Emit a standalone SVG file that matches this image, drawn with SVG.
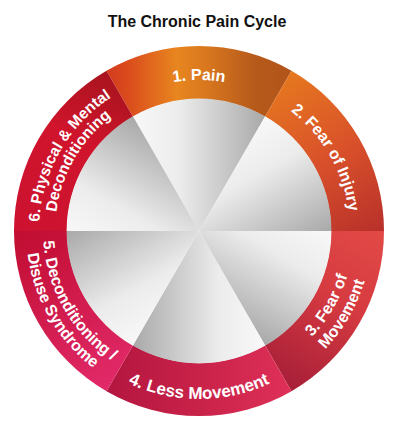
<svg xmlns="http://www.w3.org/2000/svg" width="400" height="432" viewBox="0 0 400 432">
<style>
.lbl{font-family:"Liberation Sans",Arial,Helvetica,sans-serif;font-weight:bold;fill:#ffffff;}
.t16{font-size:16px;}
.t17{font-size:17px;}
.t155{font-size:15.5px;}
.title{font-family:"Liberation Sans",Arial,Helvetica,sans-serif;font-weight:bold;font-size:16px;fill:#111111;}
</style>
<defs>
<path id="seg" d="M -92.5 -160.21 A 185 185 0 0 1 92.5 -160.21 L 66 -114.32 A 132 132 0 0 0 -66 -114.32 Z"/>
<path id="sec" d="M 0 0 L -66.3 -114.6 A 132.4 132.4 0 0 1 66.3 -114.6 Z"/>
<linearGradient id="gIn" gradientUnits="userSpaceOnUse" x1="-66" y1="0" x2="66" y2="0">
<stop offset="0" stop-color="#f8f8f8"/><stop offset="0.35" stop-color="#ececec"/><stop offset="1" stop-color="#a9a9a9"/>
</linearGradient>
<linearGradient id="g1" gradientUnits="userSpaceOnUse" x1="-92.5" y1="0" x2="92.5" y2="0">
<stop offset="0" stop-color="#d43a1e"/><stop offset="0.12" stop-color="#da4c1c"/><stop offset="0.38" stop-color="#e8861f"/><stop offset="0.55" stop-color="#d7761e"/><stop offset="0.8" stop-color="#b65a1b"/><stop offset="1" stop-color="#b0541a"/>
</linearGradient>
<linearGradient id="g2" gradientUnits="userSpaceOnUse" x1="-92.5" y1="0" x2="92.5" y2="0">
<stop offset="0" stop-color="#e6781f"/><stop offset="0.5" stop-color="#d9512a"/><stop offset="1" stop-color="#b8302a"/>
</linearGradient>
<linearGradient id="g3" gradientUnits="userSpaceOnUse" x1="-92.5" y1="0" x2="92.5" y2="0">
<stop offset="0" stop-color="#e24a46"/><stop offset="0.45" stop-color="#d53a40"/><stop offset="1" stop-color="#a61e38"/>
</linearGradient>
<linearGradient id="g4" gradientUnits="userSpaceOnUse" x1="-92.5" y1="0" x2="92.5" y2="0">
<stop offset="0" stop-color="#df3058"/><stop offset="0.5" stop-color="#c92249"/><stop offset="1" stop-color="#b3163f"/>
</linearGradient>
<linearGradient id="g5" gradientUnits="userSpaceOnUse" x1="-92.5" y1="0" x2="92.5" y2="0">
<stop offset="0" stop-color="#e22a6a"/><stop offset="1" stop-color="#c00d30"/>
</linearGradient>
<linearGradient id="g6" gradientUnits="userSpaceOnUse" x1="-92.5" y1="0" x2="92.5" y2="0">
<stop offset="0" stop-color="#cc1230"/><stop offset="0.6" stop-color="#d0142c"/><stop offset="1" stop-color="#a8141e"/>
</linearGradient>
<path id="p1" d="M 92.23 124.23 A 151 151 0 0 1 305.77 124.23"/>
<path id="p2" d="M 238.08 85.15 A 151 151 0 0 1 344.85 270.08"/>
<path id="p3a" d="M 239.11 380.72 A 155 155 0 0 0 348.72 190.89"/>
<path id="p3b" d="M 243.77 398.10 A 173 173 0 0 0 366.10 186.23"/>
<path id="p4" d="M 80.21 349.79 A 168 168 0 0 0 317.79 349.79"/>
<path id="p5a" d="M 48.32 190.63 A 156 156 0 0 0 158.63 381.68"/>
<path id="p5b" d="M 31.90 186.23 A 173 173 0 0 0 154.23 398.10"/>
<path id="p6a" d="M 44.46 272.41 A 160 160 0 0 1 157.59 76.46"/>
<path id="p6b" d="M 59.91 268.27 A 144 144 0 0 1 161.73 91.91"/>
</defs>
<rect width="400" height="432" fill="#ffffff"/>
<text class="title" x="197" y="27" text-anchor="middle">The Chronic Pain Cycle</text>
<g id="node-1">
<g transform="translate(199 231)"><use href="#seg" fill="url(#g1)"/><use href="#sec" fill="url(#gIn)"/></g>
<text class="lbl t16" text-anchor="middle"><textPath href="#p1" startOffset="50%">1. Pain</textPath></text>
</g>
<g id="node-2">
<g transform="translate(199 231) rotate(60)"><use href="#seg" fill="url(#g2)"/><use href="#sec" fill="url(#gIn)"/></g>
<text class="lbl t16" text-anchor="middle"><textPath href="#p2" startOffset="50%">2. Fear of Injury</textPath></text>
</g>
<g id="node-3">
<g transform="translate(199 231) rotate(120)"><use href="#seg" fill="url(#g3)"/><use href="#sec" fill="url(#gIn)"/></g>
<text class="lbl t16" text-anchor="middle"><textPath href="#p3a" startOffset="50%">3. Fear of</textPath></text>
<text class="lbl t16" text-anchor="middle"><textPath href="#p3b" startOffset="50%">Movement</textPath></text>
</g>
<g id="node-4">
<g transform="translate(199 231) rotate(180)"><use href="#seg" fill="url(#g4)"/><use href="#sec" fill="url(#gIn)"/></g>
<text class="lbl t17" text-anchor="middle"><textPath href="#p4" startOffset="50%">4. Less Movement</textPath></text>
</g>
<g id="node-5">
<g transform="translate(199 231) rotate(240)"><use href="#seg" fill="url(#g5)"/><use href="#sec" fill="url(#gIn)"/></g>
<text class="lbl t16" text-anchor="middle"><textPath href="#p5a" startOffset="50%">5. Deconditioning /</textPath></text>
<text class="lbl t16" text-anchor="middle"><textPath href="#p5b" startOffset="50%">Disuse Syndrome</textPath></text>
</g>
<g id="node-6">
<g transform="translate(199 231) rotate(300)"><use href="#seg" fill="url(#g6)"/><use href="#sec" fill="url(#gIn)"/></g>
<text class="lbl t155" text-anchor="middle"><textPath href="#p6a" startOffset="50%">6. Physical &amp; Mental</textPath></text>
<text class="lbl t155" text-anchor="middle"><textPath href="#p6b" startOffset="50%">Deconditioning</textPath></text>
</g>
</svg>
